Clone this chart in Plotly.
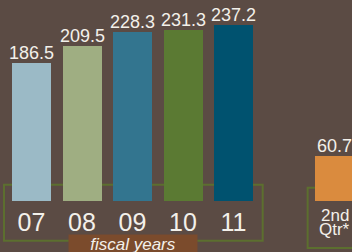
import plotly.graph_objects as go

categories = ["07", "08", "09", "10", "11"]
values = [186.5, 209.5, 228.3, 231.3, 237.2]
bar_colors = ["#9bbac6", "#9fae82", "#33758f", "#5b7a33", "#00526f"]
qtr_label = ["2nd", "Qtr*"]
qtr_value = 60.7
qtr_color = "#da8b3e"
axis_title = "fiscal years"

BG = "#5b4b44"
TXT = "#f3f0ea"
FONT = "Liberation Sans, Arial, sans-serif"

xs = list(range(len(categories)))
qx = len(categories) + 1

fig = go.Figure()
fig.add_trace(go.Bar(x=xs, y=values, marker=dict(color=bar_colors, line=dict(width=0)),
                     width=0.772, hoverinfo="skip"))
fig.add_trace(go.Bar(x=[qx], y=[qtr_value], marker=dict(color=qtr_color, line=dict(width=0)),
                     width=0.772, hoverinfo="skip"))

for x, v in zip(xs + [qx], values + [qtr_value]):
    fig.add_annotation(x=x, y=v, text=f"{v:.1f}", showarrow=False, yanchor="bottom",
                       yshift=-2, font=dict(size=18, color=TXT, family=FONT))

# quarter labels
fig.add_annotation(x=qx, y=-0.072, yref="paper", text=qtr_label[0], showarrow=False,
                   yanchor="middle", font=dict(size=17, color=TXT, family=FONT))
fig.add_annotation(x=qx, y=-0.142, yref="paper", text=qtr_label[1], showarrow=False,
                   yanchor="middle", font=dict(size=17, color=TXT, family=FONT))

# fiscal years label box
fig.add_annotation(x=0.378, y=-0.212, xref="paper", yref="paper",
                   text=f"<i>{axis_title}</i>",
                   showarrow=False, bgcolor="#7b4b2c", width=128, height=18,
                   borderpad=0, xanchor="center", yanchor="middle",
                   font=dict(size=17, color=TXT, family=FONT))

GREEN = "#5c6f2f"
fig.add_shape(type="rect", xref="paper", yref="paper", x0=0.0114, x1=0.7463,
              y0=-0.1975, y1=0.0811, line=dict(color=GREEN, width=2), layer="below")
fig.add_shape(type="rect", xref="paper", yref="paper", x0=0.874, x1=1.05,
              y0=-0.2333, y1=0.0662, line=dict(color=GREEN, width=2), layer="below")

fig.update_layout(
    width=352, height=252,
    margin=dict(l=0, r=0, t=0, b=51),
    paper_bgcolor=BG, plot_bgcolor="rgba(0,0,0,0)",
    showlegend=False, bargap=0,
    xaxis=dict(range=[-0.6238, 6.346], tickvals=xs, ticktext=categories,
               showgrid=False, zeroline=False, showline=False, ticks="",
               tickfont=dict(size=25, color=TXT, family=FONT), ticklabelstandoff=4),
    yaxis=dict(range=[0, 271.3], visible=False, showgrid=False),
)

fig.write_html("out.html", config={"displayModeBar": False, "staticPlot": True},
               post_script="document.body.style.margin='0';document.body.style.overflow='hidden';")
